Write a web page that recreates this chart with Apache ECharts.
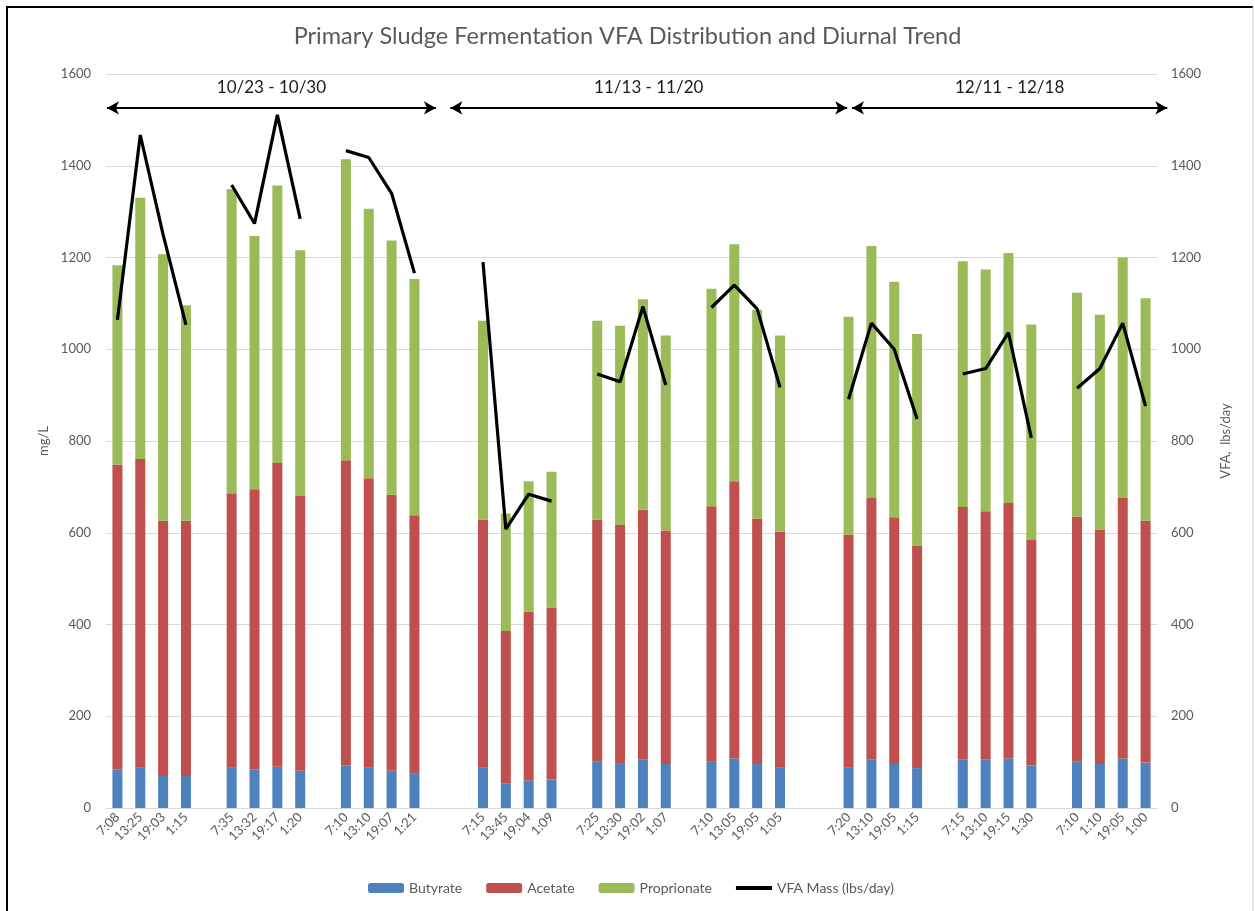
<!DOCTYPE html>
<html>
<head>
<meta charset="utf-8">
<script src="https://cdn.jsdelivr.net/npm/echarts@6/dist/echarts.min.js"></script>
<style>
  html, body { margin: 0; padding: 0; background: #fff; }
  #chart { width: 1255px; height: 911px; }
</style>
</head>
<body>
<div id="chart"></div>
<script>
// sampling times, 4 per day, 9 days
const times = [
  '7:08', '13:25', '19:03', '1:15',
  '7:35', '13:32', '19:17', '1:20',
  '7:10', '13:10', '19:07', '1:21',
  '7:15', '13:45', '19:04', '1:09',
  '7:25', '13:30', '19:02', '1:07',
  '7:10', '13:05', '19:05', '1:05',
  '7:20', '13:10', '19:05', '1:15',
  '7:15', '13:10', '19:15', '1:30',
  '7:10', '1:10', '19:05', '1:00'
];
// empty slots after each day (one between days, two between weeks)
const gapAfter = [1, 1, 2, 1, 1, 2, 1, 1, 0];

const butyrate = [84, 88, 70, 70, 88, 84, 90, 81, 93, 88, 81, 76,
  89, 54, 60, 62, 102, 98, 105, 96, 102, 108, 96, 89,
  89, 105, 96, 87, 105, 105, 108, 93, 102, 96, 108, 99];
const acetate = [665, 673, 556, 556, 598, 611, 662, 599, 665, 631, 602, 562,
  540, 332, 368, 375, 527, 519, 545, 509, 556, 604, 535, 513,
  507, 571, 538, 485, 551, 542, 557, 491, 533, 511, 568, 527];
const proprionate = [434, 569, 581, 470, 663, 552, 605, 536, 656, 587, 554, 515,
  433, 256, 284, 296, 433, 434, 459, 425, 474, 517, 455, 428,
  475, 549, 513, 461, 536, 527, 545, 470, 488, 468, 524, 485];
const vfaMass = [1064, 1467, 1250, 1053, 1358, 1274, 1511, 1284, 1433, 1418, 1340, 1166,
  1190, 608, 684, 669, 946, 929, 1093, 922, 1091, 1140, 1088, 917,
  891, 1057, 1000, 848, 946, 958, 1036, 807, 915, 958, 1057, 876];

// week brackets: [label, start slot, end slot]
const weeks = [
  ['10/23 - 10/30', -0.46, 13.94],
  ['11/13 - 11/20', 14.57, 31.94],
  ['12/11 - 12/18', 32.15, 45.95]
];
const bracketLevel = 1526;

function spread(vals, blank) {
  const out = [];
  vals.forEach((v, i) => {
    out.push(v);
    if ((i + 1) % 4 === 0) {
      for (let k = 0; k < gapAfter[(i + 1) / 4 - 1]; k++) out.push(blank);
    }
  });
  return out;
}

const categories = spread(times, '');
const nCat = categories.length;

const chart = echarts.init(document.getElementById('chart'));
const txt = '#595959';
const font = 'Lato';
const gridL = 106, gridR = 98, gridR2 = 87;
// overlay grid a bit wider on the right so the last bracket can run past the plot
const plotW = 1255 - gridL - gridR;
const overlayMax = -0.5 + nCat * (1255 - gridL - gridR2) / plotW;

const option = {
  animation: false,
  textStyle: { fontFamily: font },
  title: {
    text: 'Primary Sludge Fermentation VFA Distribution and Diurnal Trend',
    left: 'center',
    top: 19,
    textStyle: { color: txt, fontSize: 23.5, fontWeight: 'normal', fontFamily: font }
  },
  legend: {
    left: 363,
    top: 876,
    itemWidth: 36,
    itemHeight: 10,
    itemGap: 24,
    textStyle: { color: txt, fontSize: 14, fontFamily: font },
    data: ['Butyrate', 'Acetate', 'Proprionate',
      { name: 'VFA Mass (lbs/day)', icon: 'path://M0,0H36V4H0Z' }]
  },
  grid: [
    { left: gridL, right: gridR, top: 74, bottom: 103 },
    { left: gridL, right: gridR2, top: 74, bottom: 103 }
  ],
  xAxis: [
    {
      type: 'category',
      gridIndex: 0,
      data: categories,
      axisTick: { show: false },
      axisLine: { lineStyle: { color: '#d9d9d9', width: 1 } },
      axisLabel: { interval: 0, rotate: 45, color: txt, fontSize: 13, margin: 7 }
    },
    {
      type: 'value',
      gridIndex: 1,
      min: -0.5,
      max: overlayMax,
      show: false
    }
  ],
  yAxis: [
    {
      type: 'value',
      gridIndex: 0,
      min: 0, max: 1600, interval: 200,
      name: 'mg/L',
      nameLocation: 'middle',
      nameGap: 56,
      nameTextStyle: { color: txt, fontSize: 13 },
      axisLine: { show: false },
      axisTick: { show: false },
      axisLabel: { color: txt, fontSize: 13, margin: 15, formatter: v => String(v) },
      splitLine: { lineStyle: { color: '#d9d9d9' } }
    },
    {
      type: 'value',
      gridIndex: 0,
      min: 0, max: 1600, interval: 200,
      name: 'VFA,  lbs/day',
      nameLocation: 'middle',
      nameRotate: 90,
      nameGap: 62,
      nameTextStyle: { color: txt, fontSize: 13 },
      axisLine: { show: false },
      axisTick: { show: false },
      axisLabel: { color: txt, fontSize: 13, margin: 14, formatter: v => String(v) },
      splitLine: { show: false }
    },
    {
      type: 'value',
      gridIndex: 1,
      min: 0, max: 1600,
      show: false
    }
  ],
  series: [
    {
      name: 'Butyrate', type: 'bar', stack: 'vfa', barWidth: 10,
      itemStyle: { color: '#4f81bd' },
      data: spread(butyrate, null)
    },
    {
      name: 'Acetate', type: 'bar', stack: 'vfa', barWidth: 10,
      itemStyle: { color: '#c0504d' },
      data: spread(acetate, null)
    },
    {
      name: 'Proprionate', type: 'bar', stack: 'vfa', barWidth: 10,
      itemStyle: { color: '#9bbb59' },
      data: spread(proprionate, null)
    },
    {
      name: 'VFA Mass (lbs/day)', type: 'line', yAxisIndex: 1,
      symbol: 'none', connectNulls: false,
      lineStyle: { color: '#000', width: 3.2 },
      itemStyle: { color: '#000' },
      data: spread(vfaMass, null)
    },
    {
      name: 'weeks', type: 'line', xAxisIndex: 1, yAxisIndex: 2,
      data: [], clip: false, silent: true,
      markLine: {
        silent: true,
        symbol: ['arrow', 'arrow'],
        symbolSize: [10, 12],
        lineStyle: { color: '#000', width: 1.8, type: 'solid' },
        label: {
          show: true,
          position: 'insideMiddleTop',
          distance: 12,
          color: '#1a1a1a',
          fontSize: 17,
          fontFamily: font,
          formatter: p => p.name
        },
        data: weeks.map(w => [
          { name: w[0], coord: [w[1], bracketLevel] },
          { coord: [w[2], bracketLevel] }
        ])
      }
    }
  ],
  graphic: [
    {
      type: 'polyline', silent: true,
      shape: { points: [[7, 911], [7, 7], [1253, 7]] },
      style: { stroke: '#000', lineWidth: 2, fill: null }
    },
    {
      type: 'line', silent: true,
      shape: { x1: 1253, y1: 7, x2: 1253, y2: 911 },
      style: { stroke: '#d0d0d0', lineWidth: 1 }
    }
  ]
};

chart.setOption(option);
window.addEventListener('resize', () => chart.resize());
</script>
</body>
</html>
